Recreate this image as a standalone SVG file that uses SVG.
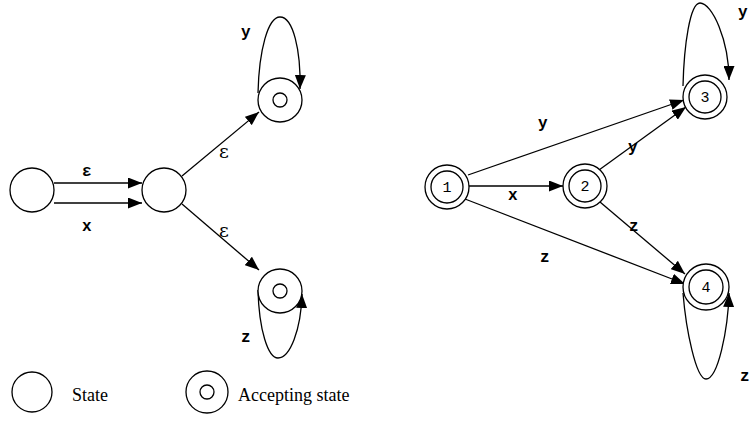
<svg xmlns="http://www.w3.org/2000/svg" width="750" height="421" viewBox="0 0 750 421">
<style>
.st{fill:#fff;stroke:#000;stroke-width:1.3}
.ed{fill:none;stroke:#000;stroke-width:1.3}
.lb{font-family:"Liberation Mono",monospace;font-weight:bold;font-size:16px;fill:#000}
.ep{font-family:"DejaVu Serif",serif;font-size:19px;fill:#000}
.nm{font-family:"Liberation Mono",monospace;font-size:15px;fill:#000;text-anchor:middle}
.lg{font-family:"Liberation Serif",serif;font-size:18px;fill:#000}
</style>
<defs>
<marker id="ah" markerUnits="userSpaceOnUse" markerWidth="15" markerHeight="11" refX="14" refY="5.5" orient="auto">
<path d="M0,0 L14,5.5 L0,11 z" fill="#000"/>
</marker>
</defs>
<rect width="750" height="421" fill="#fff"/>
<g id="connectors">
<line class="ed" x1="54" y1="183" x2="142" y2="183" marker-end="url(#ah)"/>
<line class="ed" x1="54" y1="203" x2="142" y2="203" marker-end="url(#ah)"/>
<line class="ed" x1="182" y1="176" x2="259" y2="112" marker-end="url(#ah)"/>
<line class="ed" x1="182" y1="204" x2="259" y2="270" marker-end="url(#ah)"/>
<path class="ed" d="M258,93 C259,50 268,17 280,17 C293,17 301,50 300,89" marker-end="url(#ah)"/>
<path class="ed" d="M258,290 C259,330 268,358 278,358 C290,358 301,330 302,294" marker-end="url(#ah)"/>
<line class="ed" x1="469" y1="186" x2="563" y2="186" marker-end="url(#ah)"/>
<line class="ed" x1="468" y1="175" x2="684" y2="100" marker-end="url(#ah)"/>
<line class="ed" x1="599" y1="170" x2="686" y2="107" marker-end="url(#ah)"/>
<line class="ed" x1="465" y1="199" x2="685" y2="284" marker-end="url(#ah)"/>
<line class="ed" x1="600" y1="202" x2="685" y2="274" marker-end="url(#ah)"/>
<path class="ed" d="M683,86 C684,45 690,3 700,3 C712,3 729,40 729,80" marker-end="url(#ah)"/>
<path class="ed" d="M683,293 C686,330 696,379 706,379 C718,379 728,330 729,293" marker-end="url(#ah)"/>
</g>
<g id="labels">
<text class="lb" x="82" y="176">ε</text>
<text class="lb" x="82" y="231">x</text>
<text class="ep" x="219" y="158">ε</text>
<text class="ep" x="219" y="237">ε</text>
<text class="lb" x="241" y="37">y</text>
<text class="lb" x="241" y="342">z</text>
<text class="lb" x="538" y="128">y</text>
<text class="lb" x="508" y="200">x</text>
<text class="lb" x="540" y="262">z</text>
<text class="lb" x="628" y="152">y</text>
<text class="lb" x="629" y="231">z</text>
<text class="lb" x="738" y="17">y</text>
<text class="lb" x="740" y="381">z</text>
</g>
<g id="s0"><circle class="st" cx="32" cy="190" r="22"/></g>
<g id="s1"><circle class="st" cx="164" cy="190" r="22"/></g>
<g id="s2"><circle class="st" cx="280" cy="100" r="22"/><circle class="st" cx="280" cy="100" r="7"/></g>
<g id="s3"><circle class="st" cx="280" cy="291" r="22"/><circle class="st" cx="280" cy="291" r="7"/></g>
<g id="n1"><circle class="st" cx="447" cy="187" r="22"/><circle class="st" cx="447" cy="187" r="16"/><text class="nm" x="447" y="192">1</text></g>
<g id="n2"><circle class="st" cx="585" cy="186" r="22"/><circle class="st" cx="585" cy="186" r="16"/><text class="nm" x="585" y="191">2</text></g>
<g id="n3"><circle class="st" cx="705" cy="97" r="22"/><circle class="st" cx="705" cy="97" r="16"/><text class="nm" x="705" y="102">3</text></g>
<g id="n4"><circle class="st" cx="706" cy="287" r="23"/><circle class="st" cx="706" cy="287" r="17"/><text class="nm" x="706" y="292">4</text></g>
<g id="legend-state"><circle class="st" cx="32" cy="392" r="20"/><text class="lg" x="72" y="401">State</text></g>
<g id="legend-accepting"><circle class="st" cx="207" cy="392" r="21"/><circle class="st" cx="207" cy="392" r="7"/><text class="lg" x="238" y="401">Accepting state</text></g>
</svg>
